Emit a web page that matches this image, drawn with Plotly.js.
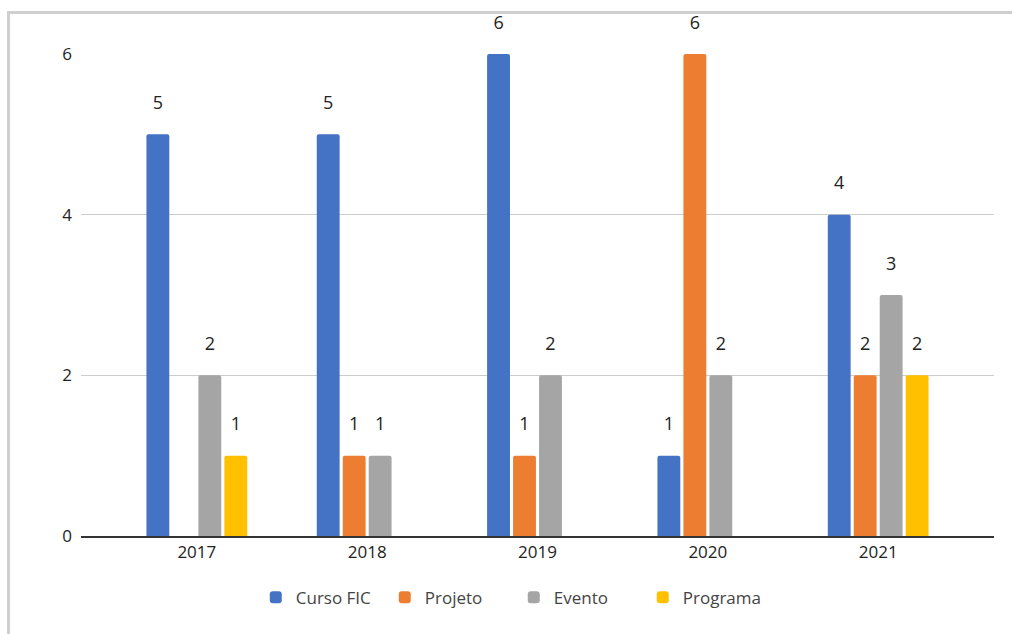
<!DOCTYPE html>
<html>
<head>
<meta charset="utf-8">
<script src="https://cdn.plot.ly/plotly-3.0.1.min.js"></script>
<style>
  html, body { margin: 0; padding: 0; background: #fff; }
  #wrap { position: relative; width: 1012px; height: 634px; overflow: hidden; }
  #chart { position: absolute; left: 0; top: 0; width: 1012px; height: 634px; }
  #frame { position: absolute; left: 7px; top: 11px; width: 1020px; height: 640px;
           border-left: 3px solid #cfcfcf; border-top: 3px solid #cfcfcf; pointer-events: none; }
</style>
</head>
<body>
<div id="wrap">
  <div id="chart"></div>
  <div id="frame"></div>
</div>
<script>
const years = ['2017', '2018', '2019', '2020', '2021'];
const cursoFIC = [5, 5, 6, 1, 4];
const projeto  = [null, 1, 1, 6, 2];
const evento   = [2, 1, 2, 2, 3];
const programa = [1, null, null, null, 2];

const seriesNames = ['Curso FIC', 'Projeto', 'Evento', 'Programa'];
const seriesValues = [cursoFIC, projeto, evento, programa];
const seriesColors = ['#4472C4', '#ED7D31', '#A5A5A5', '#FFC000'];

const font = "'Open Sans', 'DejaVu Sans', sans-serif";

const traces = seriesNames.map((name, i) => ({
  type: 'bar',
  name: name,
  x: years,
  y: seriesValues[i],
  marker: { color: seriesColors[i], line: { width: 0 }, cornerradius: 2 },
  texttemplate: '<span style="font-size:18px">%{y}</span><br> ',
  textposition: 'outside',
  textfont: { family: font, size: 14, color: '#222222' },
  constraintext: 'none',
  cliponaxis: false,
  hoverinfo: 'x+y+name'
}));

const layout = {
  width: 1012,
  height: 634,
  margin: { l: 81, r: 18, t: 54, b: 98 },
  paper_bgcolor: 'rgba(0,0,0,0)',
  plot_bgcolor: 'rgba(0,0,0,0)',
  barmode: 'group',
  bargap: 0.39,
  bargroupgap: 0.12,
  font: { family: font, size: 17, color: '#222222' },
  xaxis: {
    type: 'category',
    range: [-0.68, 4.68],
    showgrid: false,
    showline: true,
    linecolor: '#333333',
    linewidth: 1.5,
    ticks: '',
    tickfont: { family: font, size: 17, color: '#222222' },
    fixedrange: true
  },
  yaxis: {
    range: [0, 6],
    tickvals: [0, 2, 4, 6],
    showgrid: true,
    gridcolor: '#cccccc',
    gridwidth: 1,
    zeroline: false,
    showline: false,
    ticks: '',
    ticklabelstandoff: 8,
    tickfont: { family: font, size: 17, color: '#222222' },
    fixedrange: true
  },
  showlegend: true,
  legend: {
    orientation: 'h',
    x: 0.474,
    xanchor: 'center',
    y: -0.128,
    yanchor: 'middle',
    entrywidth: 84,
    entrywidthmode: 'pixels',
    font: { family: font, size: 17, color: '#444444' },
    traceorder: 'normal',
    itemclick: false
  }
};

Plotly.newPlot('chart', traces, layout, { displayModeBar: false, staticPlot: true });
</script>
</body>
</html>
